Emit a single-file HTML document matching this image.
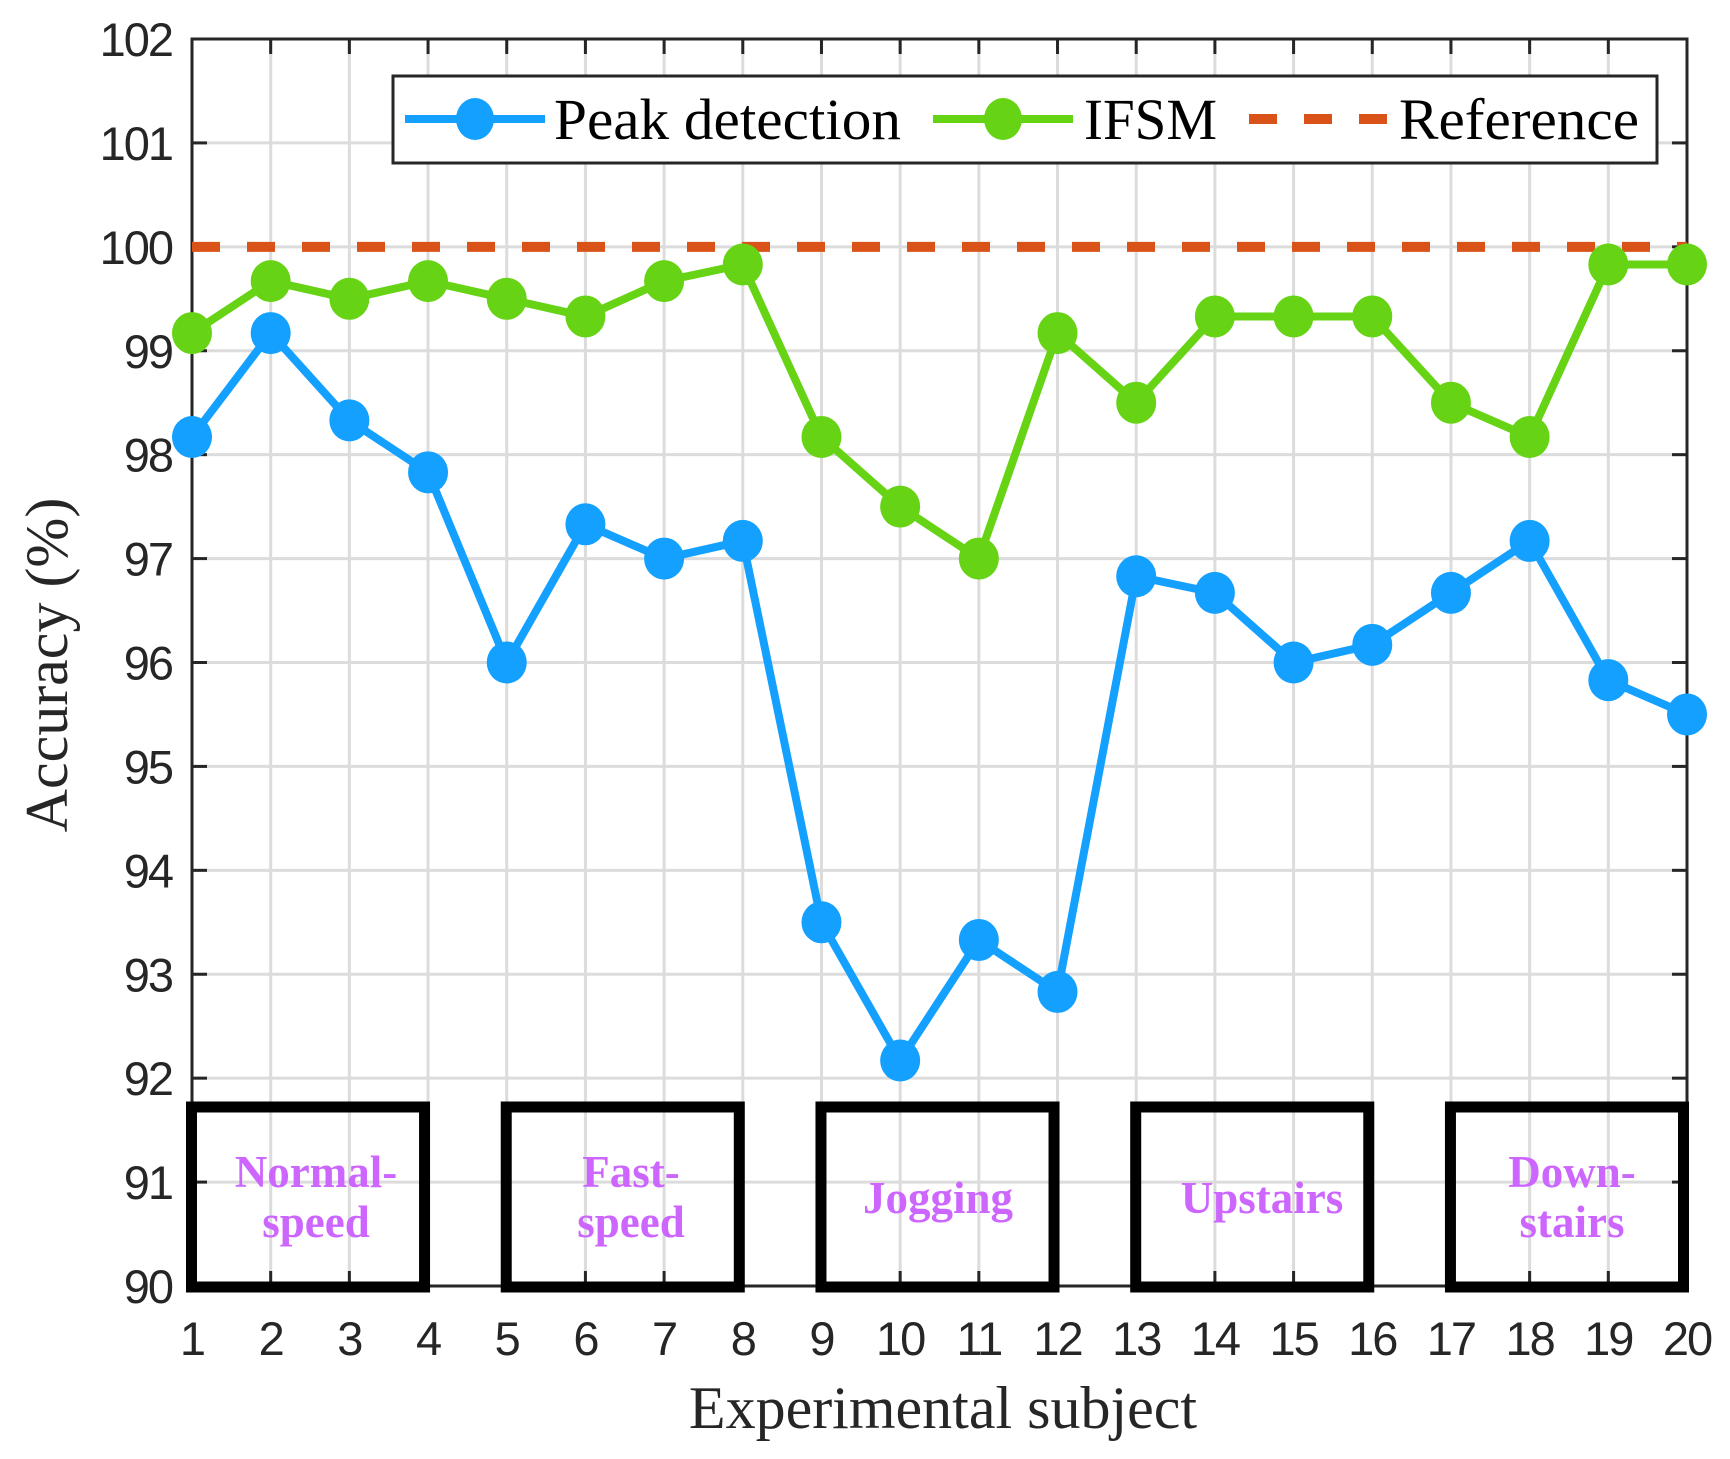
<!DOCTYPE html>
<html><head><meta charset="utf-8"><style>html,body{margin:0;padding:0;background:#fff}svg{display:block}</style></head>
<body>
<svg width="1730" height="1459" viewBox="0 0 1730 1459" xmlns="http://www.w3.org/2000/svg">
<g id="g"></g>
<script>
(function(){
var NS="http://www.w3.org/2000/svg",g=document.getElementById("g");
function el(t,a,txt){var e=document.createElementNS(NS,t);for(var k in a)e.setAttribute(k,a[k]);if(txt!==undefined)e.textContent=txt;g.appendChild(e);return e;}
var L=192,R=1687,T=39,B=1286;
function X(i){return L+(i-1)*(R-L)/19;}
function Y(v){return B-(v-90)*(B-T)/12;}
for(var i=2;i<20;i++)el("line",{x1:X(i),x2:X(i),y1:T,y2:B,stroke:"#dcdcdc","stroke-width":3});
for(var v=91;v<102;v++)el("line",{x1:L,x2:R,y1:Y(v),y2:Y(v),stroke:"#dcdcdc","stroke-width":3});
for(var i=1;i<=20;i++){el("line",{x1:X(i),x2:X(i),y1:B,y2:B-15,stroke:"#262626","stroke-width":3});el("line",{x1:X(i),x2:X(i),y1:T,y2:T+15,stroke:"#262626","stroke-width":3});
 el("text",{x:X(i),y:1355,"text-anchor":"middle","font-family":"Liberation Sans, sans-serif","font-size":47,"font-weight":"500",fill:"#262626","letter-spacing":"-2"},String(i));}
for(var v=90;v<=102;v++){el("line",{x1:L,x2:L+15,y1:Y(v),y2:Y(v),stroke:"#262626","stroke-width":3});el("line",{x1:R,x2:R-15,y1:Y(v),y2:Y(v),stroke:"#262626","stroke-width":3});
 el("text",{x:172,y:Y(v)+17,"text-anchor":"end","font-family":"Liberation Sans, sans-serif","font-size":47,fill:"#262626","letter-spacing":"-2"},String(v));}
el("rect",{x:L,y:T,width:R-L,height:B-T,fill:"none",stroke:"#262626","stroke-width":3});
el("line",{x1:L,x2:R,y1:Y(100),y2:Y(100),stroke:"#d95319","stroke-width":10,"stroke-dasharray":"28 27"});
var pk=[98.17,99.17,98.33,97.83,96,97.33,97,97.17,93.5,92.17,93.33,92.83,96.83,96.67,96,96.17,96.67,97.17,95.83,95.5];
var fs=[99.17,99.67,99.5,99.67,99.5,99.33,99.67,99.83,98.17,97.5,97,99.17,98.5,99.33,99.33,99.33,98.5,98.17,99.83,99.83];
function series(d,c){var p=d.map(function(v,i){return X(i+1)+","+Y(v)}).join(" ");
 el("polyline",{points:p,fill:"none",stroke:c,"stroke-width":8,"stroke-linejoin":"round"});
 d.forEach(function(v,i){el("ellipse",{cx:X(i+1),cy:Y(v),rx:20,ry:21,fill:c});});}
series(pk,"#14a0ff");series(fs,"#66d414");
var bx=[[1,4],[5,8],[9,12],[13,16],[17,20]];
bx.forEach(function(b){var x1=X(b[0])-6+5.5,x2=X(b[1])+2-5.5;el("rect",{x:x1,y:1107,width:x2-x1,height:180,fill:"none",stroke:"#000","stroke-width":11});});
var tf={"font-family":"Liberation Serif, serif","font-size":45,"font-weight":"bold",fill:"#cc66ff","text-anchor":"middle"};
function t(x,y,s){var a=Object.assign({x:x,y:y},tf);el("text",a,s);}
t(316,1187,"Normal-");t(316,1237,"speed");
t(631,1187,"Fast-");t(631,1237,"speed");
t(938,1213,"Jogging");
t(1262,1213,"Upstairs");
t(1572,1187,"Down-");t(1572,1237,"stairs");
el("rect",{x:393,y:76,width:1264,height:87,fill:"#fff",stroke:"#262626","stroke-width":3});
el("line",{x1:405,x2:545,y1:119,y2:119,stroke:"#14a0ff","stroke-width":8});el("ellipse",{cx:475,cy:119,rx:19,ry:21,fill:"#14a0ff"});
el("line",{x1:933,x2:1073,y1:119,y2:119,stroke:"#66d414","stroke-width":8});el("ellipse",{cx:1003,cy:119,rx:19,ry:21,fill:"#66d414"});
el("line",{x1:1249,x2:1390,y1:119,y2:119,stroke:"#d95319","stroke-width":10,"stroke-dasharray":"28 27"});
var lf={"font-family":"Liberation Serif, serif","font-size":58,fill:"#000",y:139,lengthAdjust:"spacingAndGlyphs"};
el("text",Object.assign({x:554,textLength:347},lf),"Peak detection");
el("text",Object.assign({x:1084,textLength:133},lf),"IFSM");
el("text",Object.assign({x:1399,textLength:240},lf),"Reference");
el("text",{x:943,y:1428,"text-anchor":"middle","font-family":"Liberation Serif, serif","font-size":60,fill:"#262626"},"Experimental subject");
el("text",{x:0,y:0,transform:"translate(67,665) rotate(-90)","text-anchor":"middle","font-family":"Liberation Serif, serif","font-size":60,fill:"#262626"},"Accuracy (%)");
})();
</script>
</svg>
</body></html>
